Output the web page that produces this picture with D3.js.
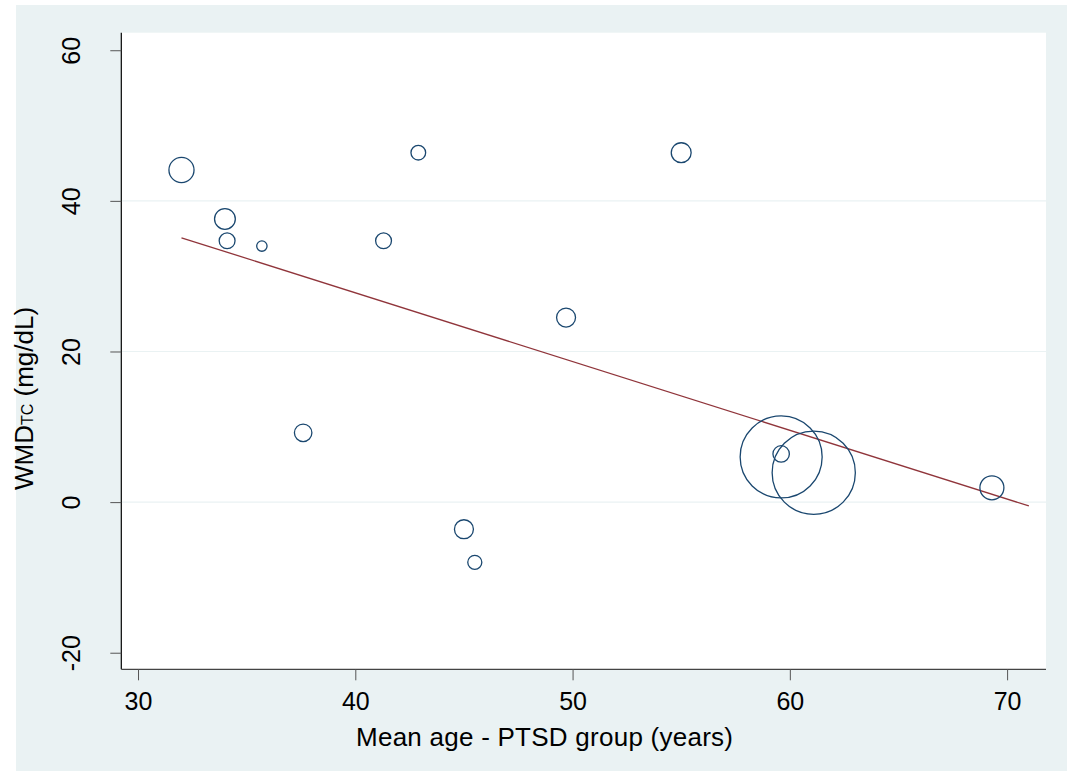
<!DOCTYPE html>
<html>
<head>
<meta charset="utf-8">
<script src="https://cdn.jsdelivr.net/npm/d3@7"></script>
<style>
  body { margin: 0; background: #fff; }
  svg text { font-family: "Liberation Sans", Arial, sans-serif; fill: #000; }
</style>
</head>
<body>
<svg id="chart" width="1067" height="771"></svg>
<script>
// Study-level points: mean age, WMD and relative weight (%)
const meanAge = [32.0, 34.0, 34.1, 35.7, 37.6, 41.3, 42.9, 45.0, 45.5, 49.7, 55.0, 59.6, 59.6, 61.1, 69.3];
const wmd     = [44.1, 37.6, 34.7, 34.0, 9.2, 34.7, 46.4, -3.6, -8.0, 24.5, 46.4, 6.0, 6.4, 3.9, 1.9];
const weight  = [3.5, 2.4, 1.4, 0.6, 1.7, 1.4, 1.2, 2.0, 1.1, 2.0, 2.2, 37.4, 1.5, 38.5, 3.2];

// Fitted line end points
const fitX = [32, 71];
const fitY = [35.1, -0.5];

const xTicks = [30, 40, 50, 60, 70];
const yTicks = [-20, 0, 20, 40, 60];
const yGrid = [0, 20, 40];

const svg = d3.select("#chart");
const plot = { left: 121.3, right: 1046, top: 32.7, bottom: 669.3 };

// outer graph region
svg.append("rect")
  .attr("x", 16).attr("y", 5)
  .attr("width", 1067 - 16).attr("height", 771 - 5)
  .attr("fill", "#eaf2f3");

svg.append("rect")
  .attr("x", plot.left).attr("y", plot.top)
  .attr("width", plot.right - plot.left).attr("height", plot.bottom - plot.top)
  .attr("fill", "#fff");

const x = d3.scaleLinear().domain([29.23, 71.79]).range([plot.left, plot.right]);
const y = d3.scaleLinear().domain([-22.2, 62.33]).range([plot.bottom, plot.top]);
const r = d3.scaleSqrt().domain([0, 38.5]).range([0, 41.6]);

// gridlines
svg.append("g")
  .selectAll("line")
  .data(yGrid)
  .enter()
  .append("line")
  .attr("x1", plot.left).attr("x2", plot.right)
  .attr("y1", d => y(d)).attr("y2", d => y(d))
  .attr("stroke", "#eaf2f3")
  .attr("stroke-width", 1.2);

// fitted line
svg.append("line")
  .attr("x1", x(fitX[0])).attr("y1", y(fitY[0]))
  .attr("x2", x(fitX[1])).attr("y2", y(fitY[1]))
  .attr("stroke", "#90353b")
  .attr("stroke-width", 1.3);

// bubbles
svg.append("g")
  .selectAll("circle")
  .data(meanAge.map((a, i) => ({ age: a, wmd: wmd[i], w: weight[i] })))
  .enter()
  .append("circle")
  .attr("cx", d => x(d.age))
  .attr("cy", d => y(d.wmd))
  .attr("r", d => r(d.w))
  .attr("fill", "none")
  .attr("stroke", "#1a476f")
  .attr("stroke-width", 1.3);

// y axis
const yAxis = svg.append("g")
  .attr("transform", `translate(${plot.left},0)`)
  .call(d3.axisLeft(y).tickValues(yTicks).tickSize(11).tickPadding(0).tickFormat(d => String(d)));
yAxis.select(".domain").attr("stroke", "#000").attr("stroke-width", 1.2)
  .attr("d", `M0,${plot.top}V${plot.bottom}`);
yAxis.selectAll(".tick line").attr("stroke", "#555");
yAxis.selectAll(".tick text")
  .attr("transform", "rotate(-90)")
  .attr("x", 0).attr("y", -41).attr("dy", 0)
  .attr("text-anchor", "middle")
  .style("font-size", "25px");

// x axis
const xAxis = svg.append("g")
  .attr("transform", `translate(0,${plot.bottom})`)
  .call(d3.axisBottom(x).tickValues(xTicks).tickSize(11).tickPadding(0).tickFormat(d => String(d)));
xAxis.select(".domain").attr("stroke", "#444").attr("stroke-width", 1.2)
  .attr("d", `M${plot.left},0H${plot.right}`);
xAxis.selectAll(".tick line").attr("stroke", "#555");
xAxis.selectAll(".tick text")
  .attr("y", 41).attr("dy", 0)
  .style("font-size", "25px");

// axis titles
svg.append("text")
  .attr("x", 356).attr("y", 746)
  .attr("text-anchor", "start")
  .attr("textLength", 377)
  .style("font-size", "26px")
  .text("Mean age - PTSD group (years)");

const yTitle = svg.append("text")
  .attr("transform", "translate(33,490) rotate(-90)")
  .attr("text-anchor", "start")
  .style("font-size", "26px");
yTitle.append("tspan").text("WMD");
yTitle.append("tspan").style("font-size", "16px").text("TC");
yTitle.append("tspan").text(" (mg/dL)");
</script>
</body>
</html>
